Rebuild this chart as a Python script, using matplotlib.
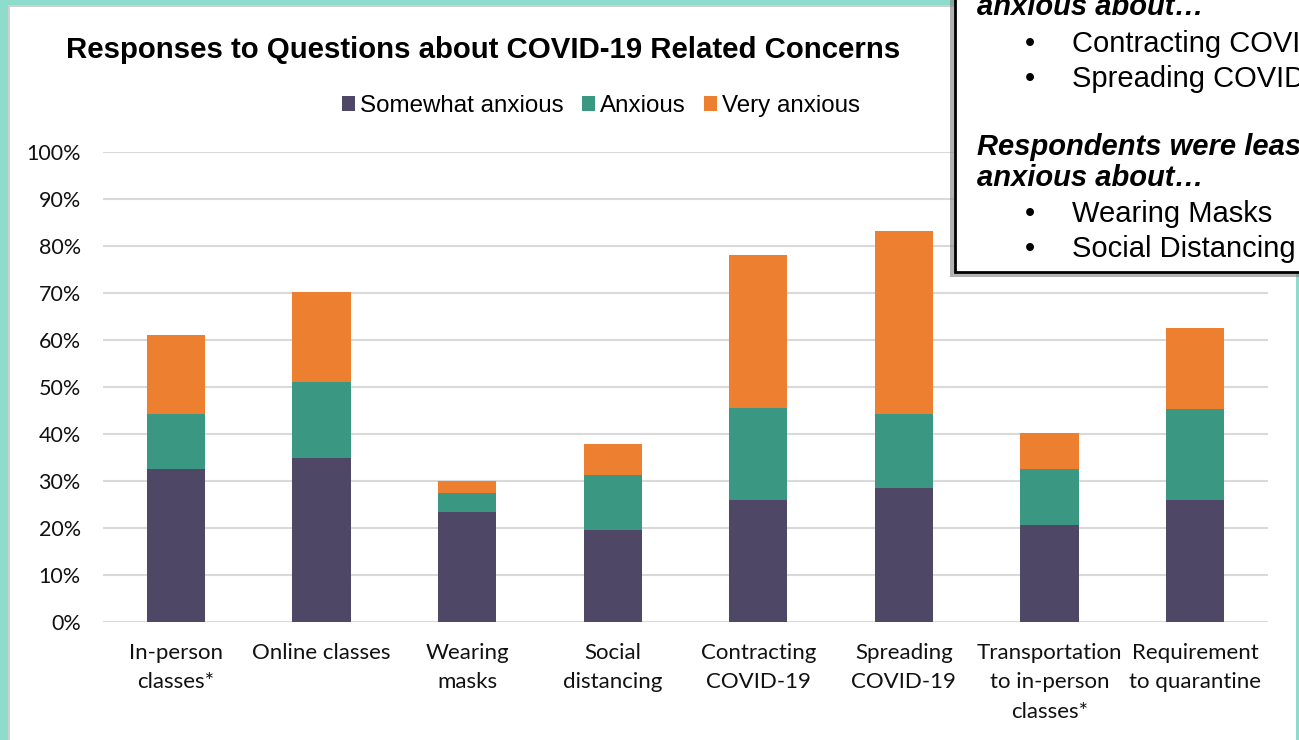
import numpy as np
import matplotlib.pyplot as plt
from matplotlib.patches import Rectangle, Patch

# Data (percent of respondents)
categories = ["In-person\nclasses*", "Online classes", "Wearing\nmasks", "Social\ndistancing",
              "Contracting\nCOVID-19", "Spreading\nCOVID-19", "Transportation\nto in-person\nclasses*",
              "Requirement\nto quarantine"]
somewhat_anxious = [32.5, 35.0, 23.4, 19.6, 26.0, 28.5, 20.7, 26.0]
anxious = [11.8, 16.0, 4.0, 11.7, 19.5, 15.8, 11.8, 19.3]
very_anxious = [16.8, 19.3, 2.6, 6.6, 32.6, 38.9, 7.7, 17.3]
series_names = ["Somewhat anxious", "Anxious", "Very anxious"]
colors = ["#4E4766", "#3A9882", "#ED7F31"]

W, H = 1299, 740
fig = plt.figure(figsize=(W / 100, H / 100), dpi=100)
fig.patch.set_facecolor("#8EDCCB")


def fx(px):
    return px / W


def fy(py):
    return 1 - py / H


# white panel with a soft edge
fig.patches.append(Rectangle((fx(8), fy(740)), fx(1288), fy(5) - fy(740), transform=fig.transFigure,
                             facecolor="#D0D0D0", edgecolor="none", zorder=-2))
fig.patches.append(Rectangle((fx(10), fy(740)), fx(1286), fy(7) - fy(740), transform=fig.transFigure,
                             facecolor="white", edgecolor="none", zorder=-1))

ax = fig.add_axes([fx(103), fy(622), fx(1268) - fx(103), fy(152) - fy(622)])
ax.set_facecolor("none")

x = np.arange(len(categories))
s1 = np.array(somewhat_anxious) / 100
s2 = np.array(anxious) / 100
s3 = np.array(very_anxious) / 100
ax.bar(x, s1, width=0.4, color=colors[0], zorder=3)
ax.bar(x, s2, width=0.4, bottom=s1, color=colors[1], zorder=3)
ax.bar(x, s3, width=0.4, bottom=s1 + s2, color=colors[2], zorder=3)

ax.set_xlim(-0.5, len(categories) - 0.5)
ax.set_ylim(0, 1.0)
ax.set_yticks(np.arange(0, 1.01, 0.1))
ax.set_yticklabels([f"{int(round(v * 100))}%" for v in np.arange(0, 1.01, 0.1)])
ax.yaxis.grid(True, color="#D9D9D9", linewidth=1.5, zorder=0)
ax.set_axisbelow(True)
for sp in ax.spines.values():
    sp.set_visible(False)
ax.tick_params(axis="both", length=0, labelsize=16, colors="#111111")
ax.tick_params(axis="y", pad=16, labelsize=15.5)
ax.set_xticks(x)
ax.set_xticklabels(categories, linespacing=1.6, va="top")
ax.tick_params(axis="x", pad=15)
for lab in ax.get_xticklabels() + ax.get_yticklabels():
    lab.set_family("Lato")

fig.text(fx(483), fy(50), "Responses to Questions about COVID-19 Related Concerns", ha="center", va="center",
         fontsize=21.2, fontweight="bold", family="Liberation Sans")

handles = [Patch(facecolor=c, edgecolor="none") for c in colors]
fig.legend(handles, series_names, loc="center", bbox_to_anchor=(fx(601), fy(106)), ncol=3, frameon=False,
           prop={"family": "Liberation Sans", "size": 17.4}, handlelength=0.55, handleheight=0.55,
           handletextpad=0.2, columnspacing=0.75)

# callout box in the top-right corner
fig.patches.append(Rectangle((fx(950), fy(277)), fx(400), fy(-10) - fy(277), transform=fig.transFigure,
                             facecolor="#7F7F7F", edgecolor="none", alpha=0.6, zorder=4))
fig.patches.append(Rectangle((fx(955), fy(272)), fx(400), fy(-10) - fy(272), transform=fig.transFigure,
                             facecolor="white", edgecolor="black", linewidth=2, zorder=5))

box_font = {"family": "Liberation Sans", "size": 21}
fig.text(fx(977), fy(15), "anxious about…", style="italic", fontweight="bold", va="baseline", zorder=6, **box_font)
fig.text(fx(977), fy(155), "Respondents were least", style="italic", fontweight="bold", va="baseline",
         zorder=6, **box_font)
fig.text(fx(977), fy(186), "anxious about…", style="italic", fontweight="bold", va="baseline", zorder=6, **box_font)
bullets = [(52, "Contracting COVID-19"), (87, "Spreading COVID-19"), (222, "Wearing Masks"), (257, "Social Distancing")]
for by, txt in bullets:
    fig.text(fx(1030), fy(by), "•", ha="center", va="baseline", zorder=6, **box_font)
    fig.text(fx(1072), fy(by), txt, va="baseline", zorder=6, **box_font)

fig.savefig("out.png", dpi=100, facecolor=fig.get_facecolor())
